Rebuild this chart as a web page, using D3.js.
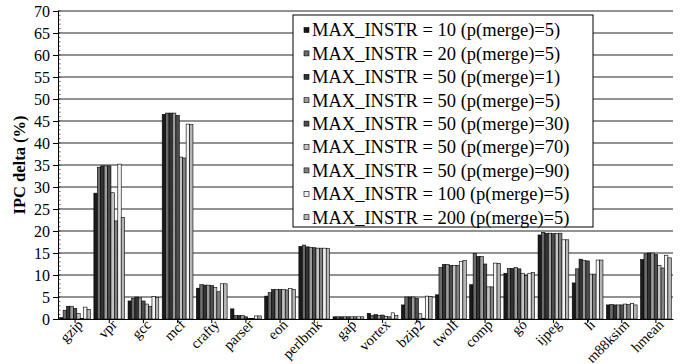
<!DOCTYPE html>
<html>
<head>
<meta charset="utf-8">
<style>
  body { margin: 0; background: #fff; }
</style>
</head>
<body>
<div id="chart"></div>
<script src="https://d3js.org/d3.v7.min.js"></script>
<script>
  const categories = ["gzip", "vpr", "gcc", "mcf", "crafty", "parser", "eon", "perlbmk", "gap",
    "vortex", "bzip2", "twolf", "comp", "go", "ijpeg", "li", "m88ksim", "hmean"];

  const seriesLabels = [
    "MAX_INSTR = 10 (p(merge)=5)",
    "MAX_INSTR = 20 (p(merge)=5)",
    "MAX_INSTR = 50 (p(merge)=1)",
    "MAX_INSTR = 50 (p(merge)=5)",
    "MAX_INSTR = 50 (p(merge)=30)",
    "MAX_INSTR = 50 (p(merge)=70)",
    "MAX_INSTR = 50 (p(merge)=90)",
    "MAX_INSTR = 100 (p(merge)=5)",
    "MAX_INSTR = 200 (p(merge)=5)"
  ];

  const instr10_m5  = [0.3, 28.6, 4.1, 46.5, 7.0, 2.3, 5.2, 16.5, 0.5, 1.3, 3.2, 5.5, 7.8, 10.4, 19.1, 8.2, 3.2, 13.5];
  const instr20_m5  = [2.0, 34.5, 4.7, 46.8, 7.8, 0.8, 6.0, 16.8, 0.5, 0.8, 5.0, 11.7, 14.9, 11.5, 19.7, 11.4, 3.3, 14.8];
  const instr50_m1  = [2.9, 34.8, 5.0, 46.8, 7.7, 0.8, 6.7, 16.4, 0.5, 1.0, 5.0, 12.4, 14.2, 11.5, 19.5, 13.6, 3.2, 15.0];
  const instr50_m5  = [2.9, 34.8, 4.8, 46.8, 7.7, 0.8, 6.7, 16.3, 0.5, 0.8, 5.0, 12.4, 14.2, 11.7, 19.5, 13.3, 3.2, 15.0];
  const instr50_m30 = [2.4, 34.8, 4.1, 46.3, 7.6, 0.5, 6.7, 16.2, 0.5, 0.9, 4.7, 12.2, 12.5, 11.4, 19.4, 13.2, 3.2, 14.7];
  const instr50_m70 = [1.3, 28.7, 3.4, 36.8, 7.2, 0.1, 6.7, 16.1, 0.5, 0.6, 1.2, 12.2, 7.3, 10.4, 19.4, 10.2, 3.4, 12.2];
  const instr50_m90 = [0.1, 22.3, 2.9, 36.6, 6.2, 0.1, 6.6, 16.1, 0.5, 0.5, 0.1, 12.2, 7.3, 9.9, 19.5, 10.2, 3.3, 11.6];
  const instr100_m5 = [2.7, 35.2, 5.1, 44.3, 8.0, 0.7, 6.9, 16.1, 0.5, 1.4, 5.2, 13.1, 12.7, 10.4, 18.0, 13.4, 3.5, 14.5];
  const instr200_m5 = [2.2, 23.1, 4.9, 44.2, 8.0, 0.7, 6.7, 16.0, 0.5, 0.8, 5.1, 13.3, 12.6, 10.6, 18.0, 13.4, 3.2, 13.9];

  const yTicks = d3.range(0, 71, 5);

  const series = [instr10_m5, instr20_m5, instr50_m1, instr50_m5, instr50_m30,
    instr50_m70, instr50_m90, instr100_m5, instr200_m5];
  const fills = ["#1a1a1a", "#6b6b6b", "#333333", "#9c9c9c", "#4d4d4d",
    "#c4c4c4", "#828282", "#f2f2f2", "#b5b5b5"];

  const serif = "'Liberation Serif', 'Times New Roman', Times, serif";

  const width = 685, height = 364;
  const margin = {top: 11, right: 12, bottom: 45, left: 58};

  const svg = d3.select("#chart").append("svg")
    .attr("width", width)
    .attr("height", height)
    .attr("font-family", serif);

  const x = d3.scaleBand()
    .domain(categories)
    .range([margin.left, width - margin.right])
    .paddingInner(0.1)
    .paddingOuter(0.05);

  const xs = d3.scaleBand()
    .domain(d3.range(series.length))
    .range([0, x.bandwidth()]);

  const y = d3.scaleLinear()
    .domain([0, 70])
    .range([height - margin.bottom, margin.top]);

  // grid lines
  svg.append("g")
    .selectAll("line")
    .data(yTicks.filter(d => d > 0))
    .enter().append("line")
    .attr("x1", margin.left)
    .attr("x2", width - margin.right)
    .attr("y1", d => y(d))
    .attr("y2", d => y(d))
    .attr("stroke", "#6e6e6e")
    .attr("stroke-width", 1.5);

  // bars
  const groups = svg.append("g")
    .selectAll("g")
    .data(series)
    .enter().append("g")
    .attr("fill", (d, i) => fills[i]);

  groups.selectAll("rect")
    .data((d, i) => d.map((v, j) => ({v: v, cat: categories[j], s: i})))
    .enter().append("rect")
    .attr("x", d => x(d.cat) + xs(d.s))
    .attr("y", d => y(d.v))
    .attr("width", xs.bandwidth())
    .attr("height", d => y(0) - y(d.v))
    .attr("stroke", "#000")
    .attr("stroke-width", 0.6);

  // y axis
  const yAxis = svg.append("g")
    .attr("transform", `translate(${margin.left},0)`)
    .call(d3.axisLeft(y).tickValues(yTicks).tickSize(5).tickPadding(3));
  yAxis.attr("font-family", serif);
  yAxis.select(".domain").attr("stroke", "#000");
  yAxis.selectAll("text").attr("font-size", 16);

  // minor ticks
  svg.append("g")
    .selectAll("line")
    .data(d3.range(0, 71, 1))
    .enter().append("line")
    .attr("x1", margin.left)
    .attr("x2", margin.left + 2.5)
    .attr("y1", d => y(d))
    .attr("y2", d => y(d))
    .attr("stroke", "#000")
    .attr("stroke-width", 0.6);

  // x axis
  const xAxis = svg.append("g")
    .attr("transform", `translate(0,${y(0)})`)
    .call(d3.axisBottom(x).tickSize(4).tickSizeOuter(0));
  xAxis.attr("font-family", serif);
  xAxis.select(".domain").attr("stroke", "#000").attr("stroke-width", 1.2);
  xAxis.selectAll("text")
    .attr("font-size", 14.5)
    .attr("text-anchor", "end")
    .attr("y", 0)
    .attr("dy", "0.35em")
    .attr("transform", "translate(5,3) rotate(-45)");

  svg.append("text")
    .attr("transform", `translate(25,${y(35)}) rotate(-90)`)
    .attr("text-anchor", "middle")
    .attr("font-size", 16.5)
    .attr("font-weight", "bold")
    .text("IPC delta (%)");

  // legend
  const legend = svg.append("g").attr("transform", "translate(293,15)");
  legend.append("rect")
    .attr("width", 300)
    .attr("height", 212)
    .attr("fill", "#fff")
    .attr("stroke", "#000")
    .attr("stroke-width", 1);

  const items = legend.selectAll("g.item")
    .data(seriesLabels)
    .enter().append("g")
    .attr("class", "item")
    .attr("transform", (d, i) => `translate(0,${15 + i * 23.4})`);

  items.append("rect")
    .attr("x", 11)
    .attr("y", -2.5)
    .attr("width", 5)
    .attr("height", 5)
    .attr("fill", (d, i) => fills[i])
    .attr("stroke", "#000")
    .attr("stroke-width", 0.6);

  items.append("text")
    .attr("x", 19)
    .attr("dy", "0.35em")
    .attr("font-size", 18.5)
    .text(d => d);
</script>
</body>
</html>
